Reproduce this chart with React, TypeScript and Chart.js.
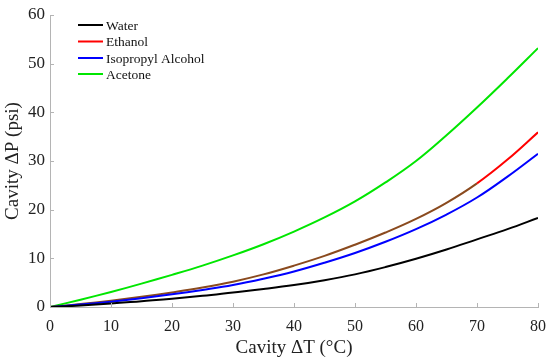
import React, { useEffect, useRef } from "react";
import Chart from "chart.js/auto";

const deltaT = [0, 5, 10, 15, 20, 25, 30, 35, 40, 45, 50, 55, 60, 65, 70, 75, 80];
const water = [0, 0.3, 0.7, 1.2, 1.7, 2.3, 3.0, 3.7, 4.5, 5.5, 6.7, 8.2, 9.9, 11.8, 13.9, 16.0, 18.3];
const ethanol = [0, 0.6, 1.3, 2.1, 3.0, 4.0, 5.2, 6.7, 8.5, 10.5, 12.8, 15.3, 18.1, 21.4, 25.4, 30.3, 35.9];
const isopropyl = [0, 0.5, 1.1, 1.8, 2.6, 3.5, 4.5, 5.8, 7.3, 9.1, 11.1, 13.4, 16.0, 19.0, 22.5, 26.8, 31.5];
const acetone = [0, 1.5, 3.1, 4.8, 6.6, 8.5, 10.6, 12.9, 15.5, 18.4, 21.7, 25.6, 30.0, 35.3, 41.0, 47.0, 53.2];
const seriesNames = ["Water", "Ethanol", "Isopropyl Alcohol", "Acetone"];
const seriesColors = ["#000000", "#ff0000", "#0000ff", "#00e600"];
const xTicks = [0, 10, 20, 30, 40, 50, 60, 70, 80];
const yTicks = [0, 10, 20, 30, 40, 50, 60];

const FONT = "'Liberation Serif', 'Times New Roman', serif";
const AXIS = "#b4b4b4";

const toPts = (ys: number[]) => deltaT.map((x, i) => ({ x, y: ys[i] }));

const innerTicks = {
  id: "innerTicks",
  afterDraw(chart: any) {
    const { ctx, scales } = chart;
    const xs = scales.x;
    const ys = scales.y;
    ctx.save();
    ctx.strokeStyle = AXIS;
    ctx.lineWidth = 1;
    ctx.beginPath();
    xTicks.forEach((v) => {
      const px = Math.round(xs.getPixelForValue(v)) + 0.5;
      ctx.moveTo(px, ys.bottom);
      ctx.lineTo(px, ys.bottom - 4);
    });
    yTicks.forEach((v) => {
      const py = Math.round(ys.getPixelForValue(v)) + 0.5;
      ctx.moveTo(xs.left, py);
      ctx.lineTo(xs.left + 4, py);
    });
    ctx.stroke();
    // legend
    ctx.font = "13.5px " + FONT;
    ctx.textBaseline = "middle";
    ctx.textAlign = "left";
    const rows = [25, 41.5, 58, 74];
    seriesNames.forEach((name, i) => {
      ctx.strokeStyle = seriesColors[i];
      ctx.lineWidth = 2;
      ctx.beginPath();
      ctx.moveTo(78, rows[i]);
      ctx.lineTo(103, rows[i]);
      ctx.stroke();
      ctx.fillStyle = "#111";
      ctx.fillText(name, 106, rows[i] + 1);
    });
    ctx.restore();
  },
};

export default function App() {
  const ref = useRef<HTMLCanvasElement>(null);
  useEffect(() => {
    const canvas = ref.current!;
    const ds = (i: number, ys: number[], extra: any = {}) => ({
      label: seriesNames[i],
      data: toPts(ys),
      borderColor: seriesColors[i],
      borderWidth: 2,
      pointRadius: 0,
      fill: false,
      tension: 0.4,
      ...extra,
    });
    const chart = new Chart(canvas, {
      type: "line",
      data: {
        datasets: [
          ds(0, water),
          ds(2, isopropyl),
          ds(1, ethanol, {
            segment: {
              borderColor: (c: any) => (c.p1.parsed.x <= 70 ? "#8a4a1e" : "#ff0000"),
            },
          }),
          ds(3, acetone),
        ],
      },
      options: {
        animation: false,
        responsive: false,
        events: [],
        layout: { padding: { top: 15, right: 12, left: 0, bottom: 0 } },
        plugins: { legend: { display: false }, tooltip: { enabled: false } },
        scales: {
          x: {
            type: "linear",
            min: 0,
            max: 80,
            afterFit: (s: any) => {
              s.height = 55;
              s.paddingRight = 0;
              s.paddingLeft = 0;
            },
            afterBuildTicks: (s: any) => {
              s.ticks = xTicks.map((v) => ({ value: v }));
            },
            grid: { display: false, drawTicks: false },
            border: { display: true, color: AXIS, width: 1 },
            ticks: {
              padding: 10,
              color: "#222",
              font: { family: FONT, size: 16 },
              maxRotation: 0,
            },
            title: {
              display: true,
              text: "Cavity ΔT (°C)",
              color: "#222",
              font: { family: FONT, size: 19, lineHeight: 1 },
              padding: { top: 0, bottom: 4 },
            },
          },
          y: {
            min: 0,
            max: 60,
            afterFit: (s: any) => {
              s.width = 50;
              s.paddingTop = 0;
              s.paddingBottom = 0;
            },
            afterBuildTicks: (s: any) => {
              s.ticks = yTicks.map((v) => ({ value: v }));
            },
            grid: { display: false, drawTicks: false },
            border: { display: true, color: AXIS, width: 1 },
            ticks: {
              padding: 5,
              color: "#222",
              font: { family: FONT, size: 17 },
            },
            title: {
              display: true,
              text: "Cavity ΔP (psi)",
              color: "#222",
              font: { family: FONT, size: 19, lineHeight: 1 },
              padding: { top: 3.5, bottom: 0 },
            },
          },
        },
      },
      plugins: [innerTicks],
    } as any);
    return () => chart.destroy();
  }, []);
  return (
    <div style={{ position: "fixed", left: 0, top: 0, width: 550, height: 362, background: "#fff" }}>
      <canvas ref={ref} width={550} height={362} style={{ width: 550, height: 362, display: "block" }} />
    </div>
  );
}
